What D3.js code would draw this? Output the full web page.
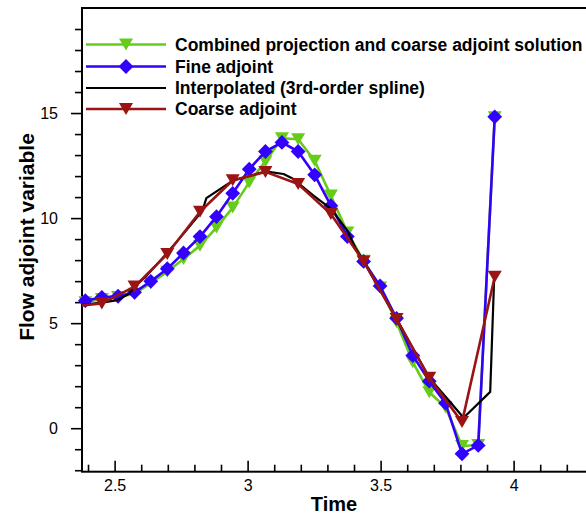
<!DOCTYPE html>
<html><head><meta charset="utf-8">
<script src="https://cdn.jsdelivr.net/npm/d3@7"></script>
<style>
body{margin:0;background:#fff}
svg{display:block;font-family:"Liberation Sans",Arial,Helvetica,sans-serif}
</style>
</head><body>
<svg id="chart" width="586" height="514"></svg>
<script>
// ---------- data ----------
const seriesNames = ["Combined projection and coarse adjoint solution","Fine adjoint","Interpolated (3rd-order spline)","Coarse adjoint"];
const fineTime = [2.390,2.452,2.513,2.575,2.636,2.698,2.759,2.821,2.883,2.944,3.006,3.067,3.129,3.190,3.252,3.313,3.375,3.436,3.498,3.560,3.621,3.683,3.744,3.806,3.867,3.929];
const fineValues = [6.07,6.23,6.28,6.47,6.99,7.59,8.34,9.12,10.07,11.18,12.33,13.17,13.6,13.17,12.06,10.59,9.12,7.94,6.77,5.23,3.46,2.24,1.19,-1.22,-0.82,14.82];
const combinedValues = [6.0,6.15,6.25,6.4,6.9,7.45,8.05,8.69,9.55,10.5,11.7,12.7,13.8,13.75,12.73,11.07,9.32,7.97,6.7,5.04,3.14,1.71,1.0,-0.85,-0.8,14.8];
const coarseTime = [2.329,2.452,2.575,2.698,2.821,2.944,3.067,3.190,3.313,3.436,3.560,3.683,3.806,3.929];
const coarseValues = [5.78,5.94,6.74,8.29,10.3,11.8,12.2,11.62,10.19,7.94,5.2,2.4,0.29,7.21];
const splineTime = [2.377,2.452,2.51,2.555,2.575,2.62,2.698,2.775,2.83,2.845,2.944,3.067,3.135,3.167,3.25,3.313,3.375,3.405,3.436,3.56,3.683,3.812,3.912,3.927];
const splineValues = [5.87,5.98,6.1,6.4,6.74,7.25,8.35,9.5,10.35,10.95,11.78,12.22,12.1,11.9,11.05,10.45,9.4,8.6,7.95,5.2,2.4,0.5,1.73,7.2];
const xMajorTicks = [2.5,3,3.5,4];
const xMinorTicks = [2.4,2.6,2.7,2.8,2.9,3.1,3.2,3.3,3.4,3.6,3.7,3.8,3.9,4.1,4.2];
const yMajorTicks = [0,5,10,15];
const yMinorTicks = [-2,-1,1,2,3,4,6,7,8,9,11,12,13,14,16,17,18,19];
const xDomain = [2.3774,4.3];
const yDomain = [-2.07,20];

// ---------- styles ----------
const colors = {combined:"#66cc1a", fine:"#3300ff", spline:"#000000", coarse:"#9a1414"};

const svg = d3.select("#chart");
const L = 82, T = 8, B = 471.7;
const x = d3.scaleLinear().domain(xDomain).range([L, L + (xDomain[1]-xDomain[0])*266]);
const y = d3.scaleLinear().domain(yDomain).range([B, T]);

svg.append("defs").append("clipPath").attr("id","plotclip")
  .append("rect").attr("x",L).attr("y",T).attr("width",600).attr("height",B-T);

// axes: y ticks outward (left), x ticks inward (up)
const yAxisMajor = d3.axisLeft(y).tickValues(yMajorTicks).tickSize(11).tickPadding(13).tickFormat(d3.format("d"));
const yAxisMinor = d3.axisLeft(y).tickValues(yMinorTicks).tickSize(7).tickFormat("");
const xAxisMajor = d3.axisBottom(x).tickValues(xMajorTicks).tickSize(-11).tickPadding(8).tickFormat(d => String(d));
const xAxisMinor = d3.axisBottom(x).tickValues(xMinorTicks).tickSize(-7).tickFormat("");

function styleAxis(g){
  g.select(".domain").remove();
  g.selectAll(".tick line").attr("stroke","#000").attr("stroke-width",1.6);
  g.selectAll(".tick text").attr("fill","#000").style("font-size","16px").style("font-family",'"Liberation Sans",Arial,sans-serif');
}
svg.append("g").attr("transform",`translate(${L},0)`).call(yAxisMinor).call(styleAxis);
svg.append("g").attr("transform",`translate(${L},0)`).call(yAxisMajor).call(styleAxis);
svg.append("g").attr("transform",`translate(0,${B})`).call(xAxisMinor).call(styleAxis);
svg.append("g").attr("transform",`translate(0,${B})`).call(xAxisMajor).call(styleAxis);

// frame
svg.append("rect").attr("x",L).attr("y",T).attr("width",x.range()[1]-L).attr("height",B-T)
  .attr("fill","none").attr("stroke","#000").attr("stroke-width",2);

// titles
svg.append("text").attr("x",334).attr("y",511).attr("text-anchor","middle")
  .style("font-size","20px").style("font-weight","bold").text("Time");
svg.append("text").attr("transform","translate(34,237) rotate(-90)").attr("text-anchor","middle")
  .style("font-size","21px").style("font-weight","bold").text("Flow adjoint variable");

// series
const line = d3.line().x(d=>x(d[0])).y(d=>y(d[1]));
const diamond = "M0,-7.4L7.4,0L0,7.4L-7.4,0Z";
const triDown = "M-7,-6L7,-6L0,6Z";
const inDomain = d => d[0] >= xDomain[0] && d[0] <= xDomain[1];

const combined = fineTime.map((t,i)=>[t,combinedValues[i]]);
const fine = fineTime.map((t,i)=>[t,fineValues[i]]);
const coarse = coarseTime.map((t,i)=>[t,coarseValues[i]]);
const spline = splineTime.map((t,i)=>[t,splineValues[i]]);

function drawSeries(data,color,width,marker){
  const g = svg.append("g");
  g.append("path").datum(data).attr("d",line).attr("fill","none")
    .attr("stroke",color).attr("stroke-width",width).attr("stroke-linejoin","round")
    .attr("clip-path","url(#plotclip)");
  if(marker){
    g.selectAll("path.m").data(data.filter(inDomain)).join("path").attr("class","m")
      .attr("d",marker).attr("transform",d=>`translate(${x(d[0])},${y(d[1])})`).attr("fill",color);
  }
}
drawSeries(combined,colors.combined,2.6,triDown);
drawSeries(fine,colors.fine,2.6,diamond);
drawSeries(spline,colors.spline,2.2,null);
drawSeries(coarse,colors.coarse,2.6,triDown);

// legend
const legendRows = [
  {name:seriesNames[0],color:colors.combined,marker:triDown,w:2.6},
  {name:seriesNames[1],color:colors.fine,marker:diamond,w:2.6},
  {name:seriesNames[2],color:colors.spline,marker:null,w:2.2},
  {name:seriesNames[3],color:colors.coarse,marker:triDown,w:2.6}
];
const rowY = [44.5,66.5,88,109];
const lg = svg.append("g");
legendRows.forEach((r,i)=>{
  const yy = rowY[i];
  lg.append("line").attr("x1",86).attr("x2",166).attr("y1",yy).attr("y2",yy)
    .attr("stroke",r.color).attr("stroke-width",r.w);
  if(r.marker) lg.append("path").attr("d",r.marker).attr("transform",`translate(126,${yy})`).attr("fill",r.color);
  lg.append("text").attr("x",175).attr("y",yy+6).style("font-size","17.5px").style("font-weight","bold").text(r.name);
});
</script>
</body></html>
